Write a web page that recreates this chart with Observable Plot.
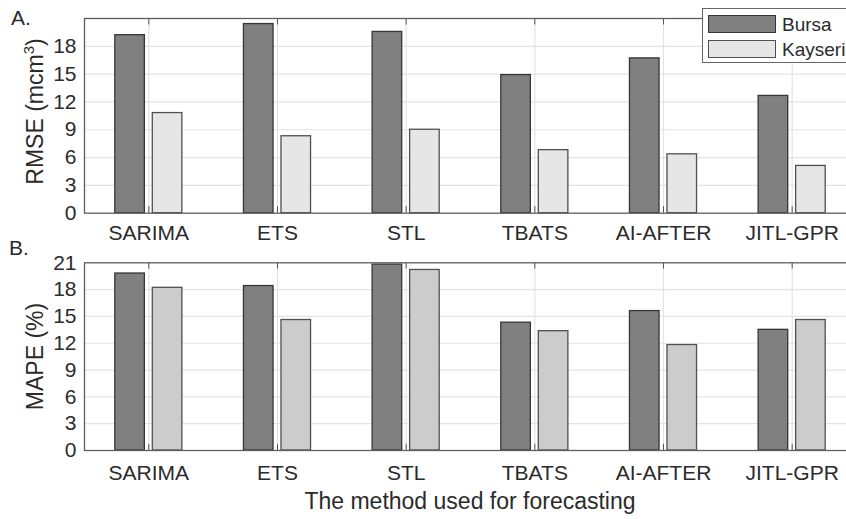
<!DOCTYPE html>
<html>
<head>
<meta charset="utf-8">
<script src="https://cdn.jsdelivr.net/npm/d3@7"></script>
<script src="https://cdn.jsdelivr.net/npm/@observablehq/plot@0.6"></script>
<style>
  html, body { margin: 0; padding: 0; background: white; }
  #wrap { position: relative; width: 846px; height: 519px; overflow: hidden; background: white;
          font-family: 'Liberation Sans', Arial, sans-serif; color: #2b2b2b; }
  #wrap svg { position: absolute; left: 0; max-width: none !important; overflow: visible; }
  .lbl { position: absolute; white-space: nowrap; line-height: 1; }
  .ylab { position: absolute; width: 300px; height: 23px; line-height: 23px; font-size: 23px;
          text-align: center; white-space: nowrap; transform: rotate(-90deg); transform-origin: 50% 50%; }
  #legend { position: absolute; left: 702px; top: 8px; width: 170px; height: 55px; border: 1px solid #666;
            background: white; box-sizing: border-box; }
  .sw { position: absolute; left: 5px; width: 68px; height: 18px; box-sizing: border-box; }
  .lt { position: absolute; left: 79px; font-size: 19px; line-height: 19px; }
</style>
</head>
<body>
<div id="wrap"></div>
<script>
const methods = ["SARIMA", "ETS", "STL", "TBATS", "AI-AFTER", "JITL-GPR"];
const cities = ["Bursa", "Kayseri"];
const rmseBursa   = [19.2, 20.4, 19.55, 14.9, 16.7, 12.65];
const rmseKayseri = [10.8, 8.3, 9.0, 6.8, 6.35, 5.1];
const mapeBursa   = [19.8, 18.4, 20.8, 14.3, 15.6, 13.5];
const mapeKayseri = [18.2, 14.6, 20.2, 13.35, 11.8, 14.6];
const rmseTicks = [0, 3, 6, 9, 12, 15, 18];
const mapeTicks = [0, 3, 6, 9, 12, 15, 18, 21];
const gridTicks = [3, 6, 9, 12, 15, 18];

function rows(values) {
  return methods.map((m, i) => ({method: m, value: values[i]}));
}

function panel({bursa, kayseri, ticks, height, marginTop, marginBottom, kayseriFill, tickPad}) {
  return Plot.plot({
    width: 860, height, marginLeft: 84, marginRight: 4, marginTop, marginBottom,
    style: {fontFamily: "'Liberation Sans', Arial, sans-serif", fontSize: "21px", color: "#2b2b2b", background: "transparent", maxWidth: "none", overflow: "visible"},
    x: {domain: methods, padding: 0, round: false, label: null, tickSize: 0, tickPadding: tickPad},
    y: {domain: [0, 21], ticks, label: null, tickSize: 0, tickPadding: 8},
    marks: [
      Plot.ruleY(gridTicks, {stroke: "#e3e3e3", strokeWidth: 1.2}),
      Plot.ruleX(methods, {x: d => d, stroke: "#e3e3e3", strokeWidth: 1.2}),
      Plot.barY(rows(bursa), {x: "method", y: "value", fill: "#808080", stroke: "#353535", strokeWidth: 1.3, insetLeft: 30.8, insetRight: 68.3}),
      Plot.barY(rows(kayseri), {x: "method", y: "value", fill: kayseriFill, stroke: "#505050", strokeWidth: 1.3, insetLeft: 68.3, insetRight: 30.8}),
      Plot.ruleX(methods, {x: d => d, y1: 21, y2: 20.3, stroke: "#555"}),
      Plot.ruleX(methods, {x: d => d, y1: 0, y2: 0.7, stroke: "#555"}),
      Plot.frame({stroke: "#5e5e5e", strokeWidth: 1.3})
    ]
  });
}

const wrap = document.getElementById("wrap");

const topPanel = panel({bursa: rmseBursa, kayseri: rmseKayseri, ticks: rmseTicks, height: 240,
  marginTop: 18, marginBottom: 27.3, kayseriFill: "#e6e6e6", tickPad: 12.3});
topPanel.style.top = "0px";
wrap.appendChild(topPanel);

const bottomPanel = panel({bursa: mapeBursa, kayseri: mapeKayseri, ticks: mapeTicks, height: 279,
  marginTop: 22.3, marginBottom: 69, kayseriFill: "#cccccc", tickPad: 14.5});
bottomPanel.style.top = "240px";
wrap.appendChild(bottomPanel);

function addDiv(cls, html, css) {
  const d = document.createElement("div");
  d.className = cls;
  d.innerHTML = html;
  Object.assign(d.style, css);
  wrap.appendChild(d);
  return d;
}

addDiv("lbl", "A.", {left: "11px", top: "7px", fontSize: "21px"});
addDiv("lbl", "B.", {left: "9px", top: "237px", fontSize: "21px"});
addDiv("ylab", "RMSE (mcm<sup style='font-size:15px;vertical-align:9px;line-height:0'>3</sup>)", {left: (34.5 - 150) + "px", top: (111 - 11.5) + "px"});
addDiv("ylab", "MAPE (%)", {left: (34.5 - 150) + "px", top: (356 - 11.5) + "px"});
addDiv("lbl", "The method used for forecasting", {left: "170px", width: "600px", textAlign: "center", top: "489.5px", fontSize: "23px"});

const legend = addDiv("", "", {});
legend.id = "legend";
const entries = [
  {name: cities[0], fill: "#808080", stroke: "#353535", y: 6},
  {name: cities[1], fill: "#e6e6e6", stroke: "#505050", y: 31}
];
for (const e of entries) {
  const sw = document.createElement("div");
  sw.className = "sw";
  Object.assign(sw.style, {top: e.y + "px", background: e.fill, border: "1.3px solid " + e.stroke});
  legend.appendChild(sw);
  const t = document.createElement("div");
  t.className = "lt";
  t.textContent = e.name;
  t.style.top = (e.y - 0.5) + "px";
  legend.appendChild(t);
}
</script>
</body>
</html>
